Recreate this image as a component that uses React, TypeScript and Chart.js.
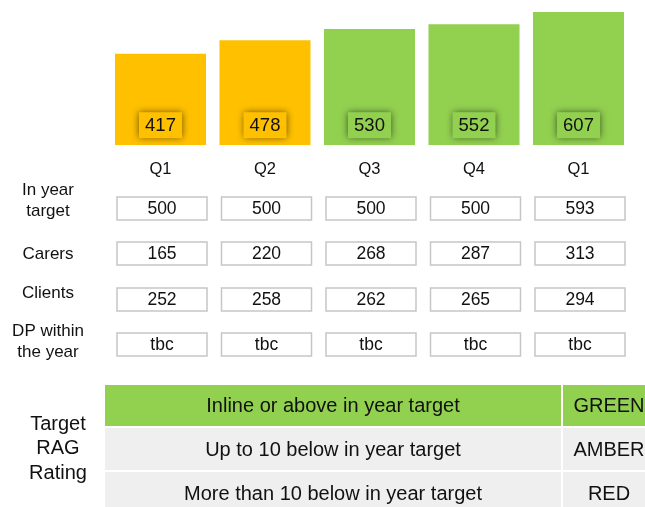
import React, { useEffect, useRef } from "react";
import { Chart, registerables } from "chart.js";

Chart.register(...registerables);

// ---- data ----
const categories = ["Q1", "Q2", "Q3", "Q4", "Q1"];
const actualValues = [417, 478, 530, 552, 607];
const ragStatus = ["AMBER", "AMBER", "GREEN", "GREEN", "GREEN"];
const inYearTarget = ["500", "500", "500", "500", "593"];
const carers = ["165", "220", "268", "287", "313"];
const clients = ["252", "258", "262", "265", "294"];
const dpWithinYear = ["tbc", "tbc", "tbc", "tbc", "tbc"];
const rowLabels = [["In year", "target"], ["Carers"], ["Clients"], ["DP within", "the year"]];
const ragCriteria = [
  "Inline or above in year target",
  "Up to 10 below in year target",
  "More than 10 below in year target",
];
const ragNames = ["GREEN", "AMBER", "RED"];
const ragTitle = ["Target", "RAG", "Rating"];

const ragColor: Record<string, string> = {
  GREEN: "#92D050",
  AMBER: "#FFC000",
  RED: "#FF0000",
};
const FONT = "'Liberation Sans', Arial, sans-serif";
const TEXT = "#111111";

const tableRows = [inYearTarget, carers, clients, dpWithinYear];
const rowBoxTops = [197, 242, 288, 333];
const rowLabelCenters = [201, 254, 293, 342];

const overlayPlugin = {
  id: "overlayTables",
  afterDatasetsDraw(chart: any) {
    const ctx: CanvasRenderingContext2D = chart.ctx;
    const meta = chart.getDatasetMeta(0);
    const yBase = chart.scales.y.getPixelForValue(0);
    ctx.save();
    ctx.textAlign = "center";
    ctx.textBaseline = "middle";

    // value labels inside bars
    meta.data.forEach((bar: any, i: number) => {
      const w = 43, h = 26;
      const cx = bar.x;
      const cy = yBase - 20;
      ctx.save();
      ctx.shadowColor = "rgba(0,0,0,0.6)";
      ctx.shadowBlur = 7;
      ctx.fillStyle = ragColor[ragStatus[i]];
      ctx.fillRect(cx - w / 2, cy - h / 2, w, h);
      ctx.restore();
      ctx.fillStyle = TEXT;
      ctx.font = `18.5px ${FONT}`;
      ctx.fillText(String(actualValues[i]), cx, cy + 1);
    });

    // table of figures
    tableRows.forEach((row, r) => {
      const top = rowBoxTops[r];
      const h = 23;
      row.forEach((val, i) => {
        const cx = meta.data[i].x + 1.5;
        const w = 90;
        ctx.fillStyle = "#ffffff";
        ctx.fillRect(cx - w / 2, top, w, h);
        ctx.strokeStyle = "#c6c6c6";
        ctx.lineWidth = 1.5;
        ctx.strokeRect(cx - w / 2, top, w, h);
        ctx.fillStyle = TEXT;
        ctx.font = `17.5px ${FONT}`;
        ctx.fillText(val, cx, top + h / 2 + 1);
      });
      // row label
      const lines = rowLabels[r];
      ctx.font = `17px ${FONT}`;
      ctx.fillStyle = TEXT;
      const lh = 21.5;
      lines.forEach((ln, k) => {
        const y = rowLabelCenters[r] + (k - (lines.length - 1) / 2) * lh;
        ctx.fillText(ln, 48, y);
      });
    });

    // RAG rating table
    const ragTops = [385, 428, 472];
    const ragH = [41, 42, 42];
    ragCriteria.forEach((txt, r) => {
      const name = ragNames[r];
      const fill = name === "GREEN" ? ragColor.GREEN : "#efefef";
      ctx.fillStyle = fill;
      ctx.fillRect(105, ragTops[r], 456, ragH[r]);
      ctx.fillRect(563, ragTops[r], 95, ragH[r]);
      ctx.fillStyle = TEXT;
      ctx.font = `20px ${FONT}`;
      const cy = ragTops[r] + ragH[r] / 2 + 1;
      ctx.fillText(txt, 333, cy);
      ctx.fillText(name, 609, cy);
    });
    ctx.font = `20px ${FONT}`;
    ragTitle.forEach((t, k) => {
      ctx.fillText(t, 58, 424 + k * 24.5);
    });

    ctx.restore();
  },
};

export default function App() {
  const ref = useRef<HTMLCanvasElement>(null);
  useEffect(() => {
    document.body.style.margin = "0";
    const canvas = ref.current;
    if (!canvas) return;
    const chart = new Chart(canvas, {
      type: "bar",
      data: {
        labels: categories,
        datasets: [
          {
            data: actualValues,
            backgroundColor: ragStatus.map((s) => ragColor[s]),
            borderWidth: 0,
            barPercentage: 0.871,
            categoryPercentage: 1,
          },
        ],
      },
      options: {
        responsive: false,
        animation: false,
        devicePixelRatio: 1,
        layout: { padding: { left: 108.25, right: 14.25, top: 0, bottom: 322 } },
        plugins: {
          legend: { display: false },
          tooltip: { enabled: false },
        },
        scales: {
          x: {
            grid: { display: false },
            border: { display: false },
            ticks: { color: TEXT, font: { size: 16.5, family: FONT }, padding: 6 },
          },
          y: { display: false, min: 0, max: 662 },
        },
      },
      plugins: [overlayPlugin],
    });
    return () => chart.destroy();
  }, []);
  return (
    <div style={{ position: "fixed", left: 0, top: 0, width: 645, height: 507, background: "#fff" }}>
      <canvas ref={ref} width={645} height={507} style={{ display: "block" }} />
    </div>
  );
}
